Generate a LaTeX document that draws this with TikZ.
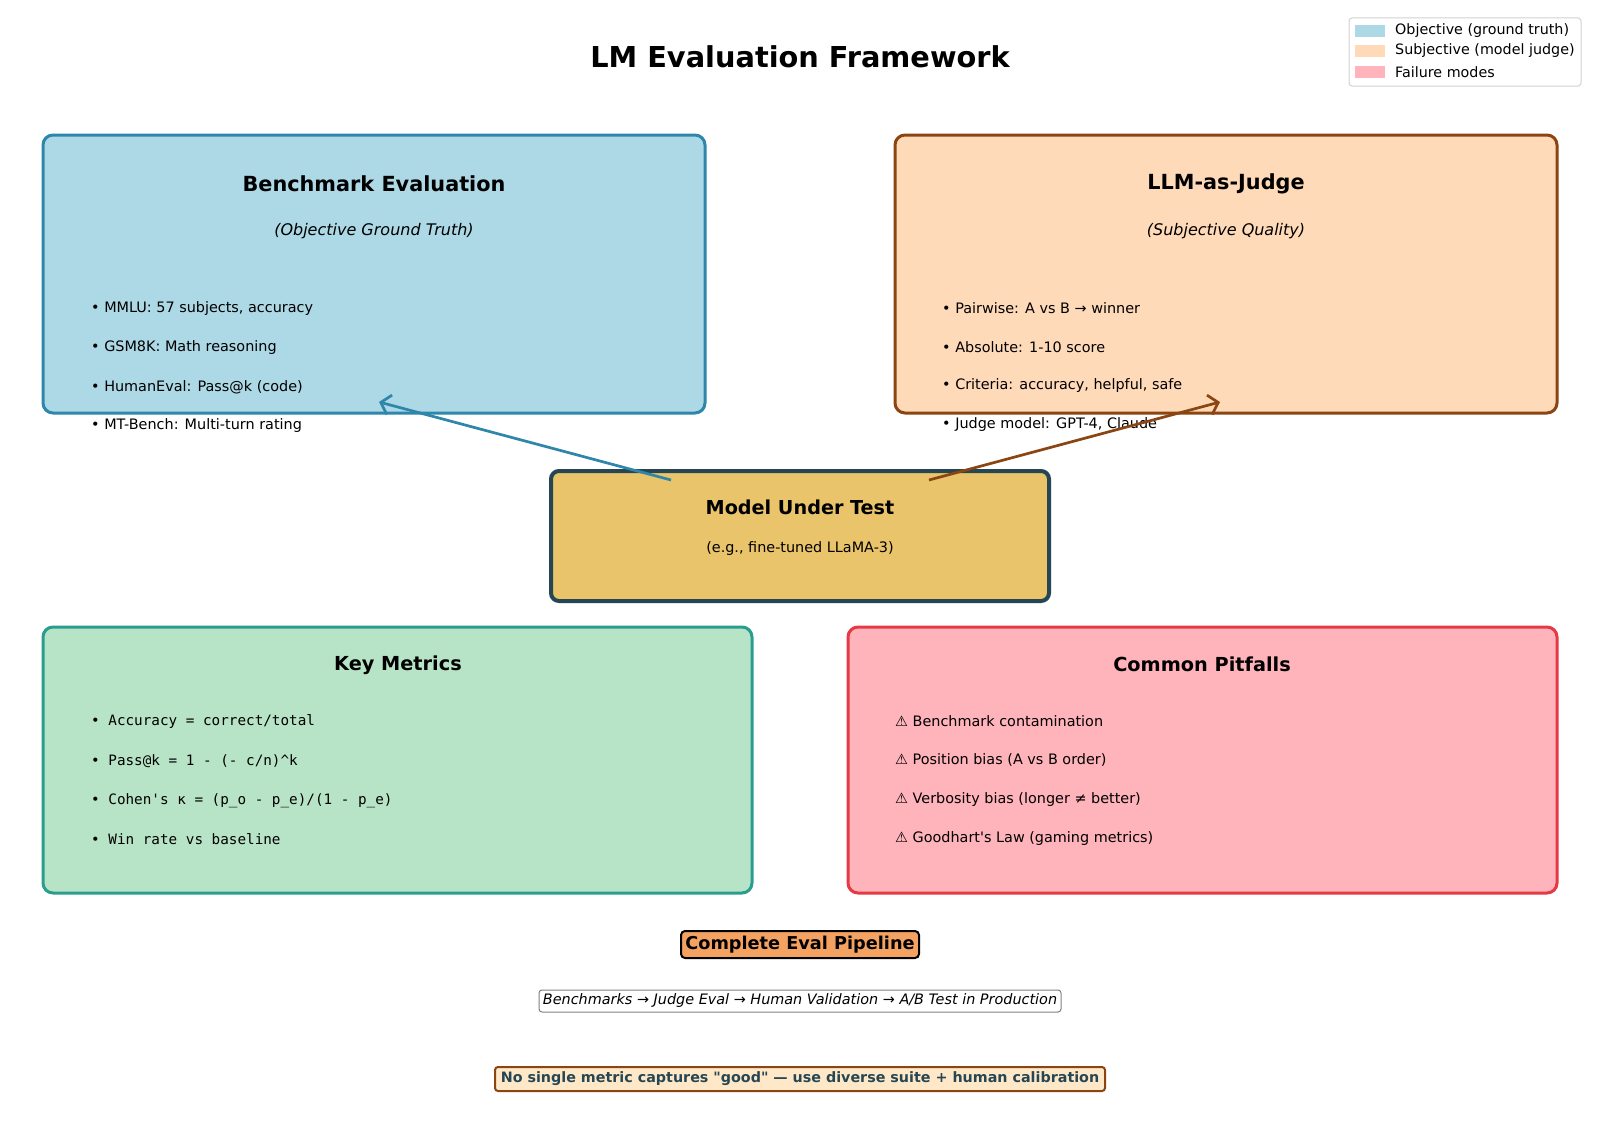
\documentclass[tikz,border=0pt]{standalone}
\usepackage{fontspec}
\setmainfont{DejaVu Sans}
\setmonofont{DejaVu Sans Mono}
\newfontfamily\dvraw{DejaVu Sans}
\usetikzlibrary{arrows.meta}
\definecolor{benchfill}{HTML}{ADD8E6}
\definecolor{benchline}{HTML}{2E86AB}
\definecolor{judgefill}{HTML}{FFDAB9}
\definecolor{judgeline}{HTML}{8B4513}
\definecolor{modelfill}{HTML}{E9C46A}
\definecolor{modelline}{HTML}{264653}
\definecolor{metfill}{HTML}{B7E4C7}
\definecolor{metline}{HTML}{2A9D8F}
\definecolor{pitfill}{HTML}{FFB3BA}
\definecolor{pitline}{HTML}{E63946}
\definecolor{pipefill}{HTML}{F4A261}
\definecolor{notefill}{HTML}{FFE8C8}
\definecolor{notetext}{HTML}{264653}
\tikzset{
  bigbox/.style={draw, rounded corners=10pt, line width=3pt, inner sep=0pt},
  ttl/.style={font=\fontsize{20.8}{25}\selectfont\bfseries},
  ttlb/.style={font=\fontsize{19.3}{23}\selectfont\bfseries},
  sub/.style={font=\fontsize{16}{19}\selectfont\itshape},
  item/.style={anchor=west, inner sep=0pt, font=\fontsize{14.4}{17}\selectfont},
  mitem/.style={anchor=west, inner sep=0pt, font=\fontsize{14.3}{17}\selectfont\ttfamily},
  arr/.style={line width=2.7pt, -{Straight Barb[length=9pt,width=20pt]}},
  legtext/.style={anchor=west, inner sep=0pt, font=\fontsize{14.3}{17}\selectfont},
}
\begin{document}
\begin{tikzpicture}[x=1pt,y=-1pt]
\useasboundingbox (0,0) rectangle (1600,1140);
\fill[white] (0,0) rectangle (1600,1140);

% title
\node[font=\fontsize{28.8}{34}\selectfont\bfseries] (title) at (800,57) {LM Evaluation Framework};

% legend
\draw[gray!35, fill=white, rounded corners=3pt, line width=1pt] (1349,18) rectangle (1581,86);
\fill[benchfill] (1355,25) rectangle (1385,37);
\fill[judgefill] (1355,45) rectangle (1385,57);
\fill[pitfill] (1355,66) rectangle (1385,78);
\node[legtext] (l1) at (1395,31) {Objective (ground truth)};
\node[legtext] (l2) at (1395,51) {Subjective (model judge)};
\node[legtext] (l3) at (1395,72) {Failure modes};

% benchmark box
\node[bigbox, fill=benchfill, draw=benchline, minimum width=662pt, minimum height=278pt] (bench) at (374,274) {};
\node[ttl] (benchT) at (374,184) {Benchmark Evaluation};
\node[sub] (benchS) at (374,231) {(Objective Ground Truth)};
\node[item] (b1) at (91,309) {• MMLU: 57 subjects, accuracy};
\node[item] (b2) at (91,348) {• GSM8K: Math reasoning};
\node[item] (b3) at (91,387) {• HumanEval: Pass@k (code)};
\node[item] (b4) at (91,426) {• MT-Bench: Multi-turn rating};

% judge box
\node[bigbox, fill=judgefill, draw=judgeline, minimum width=662pt, minimum height=278pt] (judge) at (1226,274) {};
\node[ttl] (judgeT) at (1226,184) {LLM-as-Judge};
\node[sub] (judgeS) at (1226,231) {(Subjective Quality)};
\node[item] (j1) at (942,308) {• Pairwise: A vs B → winner};
\node[item] (j2) at (942,347) {• Absolute: 1-10 score};
\node[item] (j3) at (942,386) {• Criteria: accuracy, helpful, safe};
\node[item] (j4) at (942,425) {• Judge model: GPT-4, Claude};

% model box
\node[draw=modelline, fill=modelfill, line width=4pt, rounded corners=8pt, minimum width=498pt, minimum height=130pt] (model) at (800,536) {};
\node[font=\fontsize{19.2}{23}\selectfont\bfseries] (modelT) at (800,507) {Model Under Test};
\node[font=\fontsize{14.4}{17}\selectfont] (modelS) at (800,549) {(e.g., fine-tuned LLaMA-3)};

% arrows
\coordinate (mL) at (671,480);
\coordinate (mR) at (929,480);
\coordinate (bT) at (379,402);
\coordinate (jT) at (1220,402);
\draw[arr, benchline] (mL) -- (bT);
\draw[arr, judgeline] (mR) -- (jT);

% metrics box
\node[bigbox, fill=metfill, draw=metline, minimum width=709pt, minimum height=266pt] (met) at (397.5,760) {};
\node[ttlb] (metT) at (398,665) {Key Metrics};
\node[mitem] (m1) at (91,722) {• Accuracy = correct/total};
\node[mitem] (m2) at (91,761) {• Pass@k = 1 - (- c/n)\^{}k};
\node[mitem] (m3) at (91,801) {• Cohen's κ = (p\_o - p\_e)/(1 - p\_e)};
\node[mitem] (m4) at (91,839) {• Win rate vs baseline};

% pitfalls box
\node[bigbox, fill=pitfill, draw=pitline, minimum width=709pt, minimum height=266pt] (pit) at (1202.5,760) {};
\node[ttlb] (pitT) at (1202,664) {Common Pitfalls};
\node[item] (p1) at (895,721) {⚠ Benchmark contamination};
\node[item] (p2) at (895,760) {⚠ Position bias (A vs B order)};
\node[item] (p3) at (895,800) {⚠ Verbosity bias (longer ≠ better)};
\node[item] (p4) at (895,839) {\dvraw ⚠ Goodhart's Law (gaming metrics)};

% pipeline
\node[draw=black, fill=pipefill, line width=2pt, rounded corners=4pt, minimum width=238pt, minimum height=27pt, inner sep=0pt, font=\fontsize{17.7}{21}\selectfont\bfseries] (pipe) at (800,944.5) {Complete Eval Pipeline};
\node[draw=gray, fill=white, line width=1pt, rounded corners=3pt, minimum width=522pt, minimum height=22pt, inner sep=0pt, font=\fontsize{14.4}{17}\selectfont\itshape] (flow) at (800,1001) {Benchmarks → Judge Eval → Human Validation → A/B Test in Production};
\node[draw=judgeline, fill=notefill, text=notetext, line width=2pt, rounded corners=3pt, minimum width=610pt, minimum height=24pt, inner sep=0pt, font=\dvraw\fontsize{14.3}{17}\selectfont\bfseries] (note) at (800,1079) {No single metric captures "good" — use diverse suite + human calibration};
\end{tikzpicture}
\end{document}
